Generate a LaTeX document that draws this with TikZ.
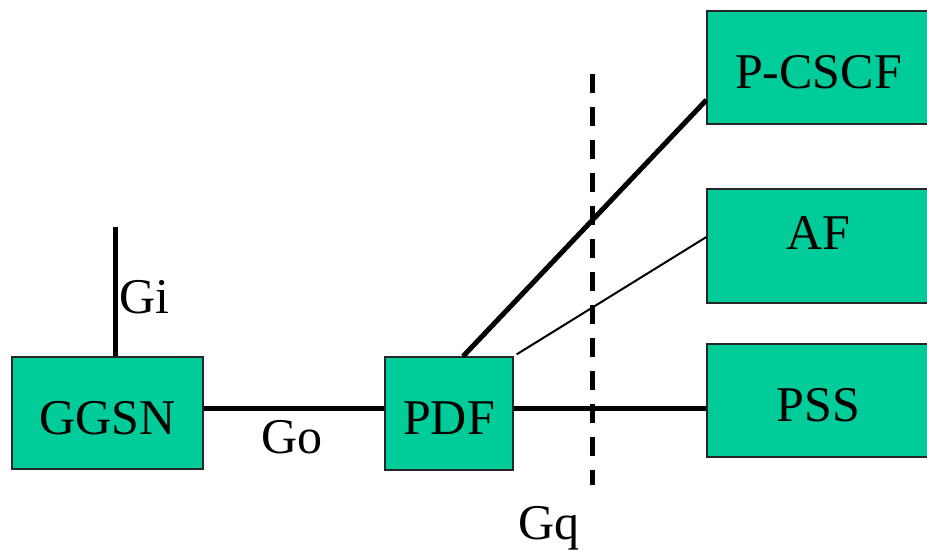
\documentclass[tikz,border=0pt]{standalone}
\usepackage{fontspec}
\setmainfont{Liberation Serif}
\definecolor{boxfill}{RGB}{0,204,153}
\begin{document}
\begin{tikzpicture}[x=1pt,y=-1pt,
  box/.style={draw=black!85,line width=1.2pt,fill=boxfill,rectangle,inner sep=0pt,
    font=\fontsize{50}{60}\selectfont,text height=42pt,text depth=0pt},
  lbl/.style={font=\fontsize{50}{60}\selectfont,inner sep=0pt,anchor=base west},
  thickline/.style={line width=5pt},
  thinline/.style={line width=2pt},
  gqline/.style={line width=5pt,dash pattern=on 19pt off 14pt}]
\useasboundingbox (0,0) rectangle (927,551);
\node[box,minimum width=191pt,minimum height=112pt] (ggsn) at (107.5,413) {GGSN};
\node[box,minimum width=128pt,minimum height=113pt] (pdf) at (449,413.5) {PDF};
\node[box,minimum width=223pt,minimum height=113pt] (pcscf) at (818.5,67.5) {P-CSCF};
\node[box,minimum width=223pt,minimum height=114pt,text height=33pt,text depth=26pt] (af) at (818.5,246) {AF};
\node[box,minimum width=223pt,minimum height=113pt] (pss) at (818.5,400.5) {PSS};
\coordinate (gitop) at (115,227);
\coordinate (goy) at (0,408);
\coordinate (gqtop) at (592,74);
\coordinate (gqbot) at (592,485);
\draw[thickline] (gitop) -- (ggsn.north -| gitop);
\draw[thickline] (ggsn.east |- goy) -- (pdf.west |- goy);
\draw[thickline] (pdf.east |- goy) -- (pss.west |- goy);
\draw[thickline] ([xshift=14pt]pdf.north) -- ([yshift=-32.5pt]pcscf.west);
\draw[thinline] ([xshift=3pt,yshift=2pt]pdf.north east) -- ([yshift=9pt]af.west);
\draw[gqline] (gqtop) -- (gqbot);
\node[lbl] (gi) at (119,313) {Gi};
\node[lbl] (go) at (261,453) {Go};
\node[lbl] (gq) at (518,539) {Gq};
\end{tikzpicture}
\end{document}
